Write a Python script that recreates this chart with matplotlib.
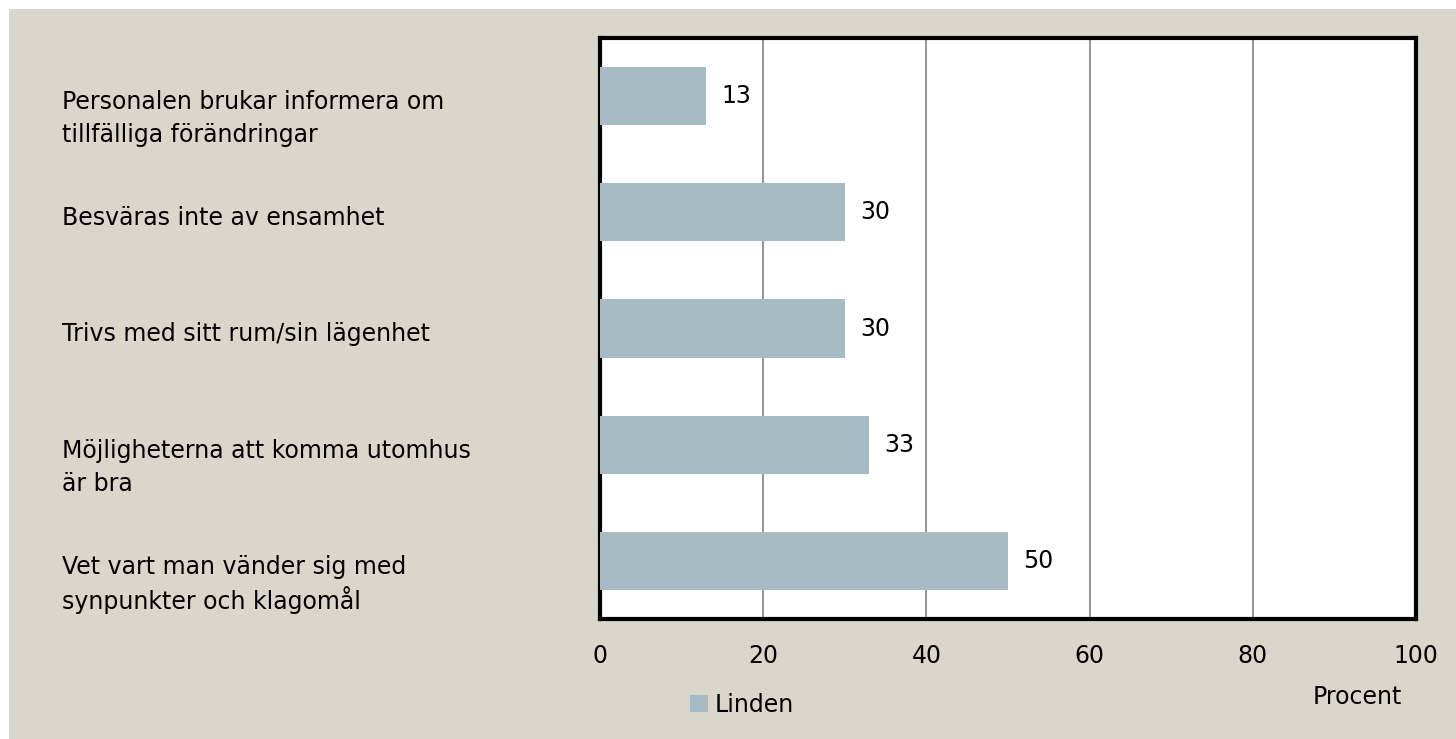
import matplotlib
matplotlib.use("Agg")
import matplotlib.pyplot as plt
import matplotlib.transforms as mtrans

plt.rcParams['font.family'] = ['DejaVu Sans']

categories = [
    "Personalen brukar informera om\ntillfälliga förändringar",
    "Besväras inte av ensamhet",
    "Trivs med sitt rum/sin lägenhet",
    "Möjligheterna att komma utomhus\när bra",
    "Vet vart man vänder sig med\nsynpunkter och klagomål",
]
values = [13, 30, 30, 33, 50]
series_name = "Linden"
xticks = [0, 20, 40, 60, 80, 100]
xlabel = "Procent"

BG = "#D9D7CB"
BAR = "#A7BBC5"
FS = 17

fig = plt.figure(figsize=(14.56, 7.39), dpi=100)
fig.patch.set_facecolor("white")
# beige panel with white margin at top/left
fig.patches.append(plt.Rectangle((9/1456, 0), 1 - 9/1456, 1 - 9/739,
                                 transform=fig.transFigure, facecolor=BG,
                                 edgecolor="none", zorder=-10))

ax = fig.add_axes([600/1456, 1 - 619/739, 816/1456, 581/739])
ax.set_zorder(1)
ax.set_facecolor("white")
ypos = list(range(len(categories)))
bars = ax.barh(ypos, values, height=0.5, color=BAR, zorder=3, label=series_name)
ax.set_ylim(len(categories) - 0.5, -0.5)
ax.set_xlim(0, 100)
ax.set_xticks(xticks)
ax.set_xticklabels([str(t) for t in xticks], fontsize=FS)
ax.tick_params(axis='x', length=0, pad=18)
ax.set_yticks([])
ax.grid(axis='x', color="#8C8C8C", linewidth=1.3, zorder=1)
for s in ax.spines.values():
    s.set_linewidth(3)
    s.set_color("black")

for y, v in zip(ypos, values):
    ax.annotate(str(v), xy=(v, y), xytext=(15, 0), textcoords="offset pixels",
                va="center", ha="left", fontsize=FS)

# category labels
blend = mtrans.blended_transform_factory(fig.transFigure, ax.transData)
for y, lab in zip(ypos, categories):
    for i, line in enumerate(lab.split("\n")):
        off = mtrans.ScaledTranslation(0, (-6 - i * 33) / 100, fig.dpi_scale_trans)
        fig.text(62/1456, y, line, transform=blend + off, fontsize=FS,
                 va="center", ha="left")

ax.set_xlabel(xlabel, fontsize=FS)
ax.xaxis.set_label_coords(0.928, -0.134)
ax.xaxis.label.set_va("center")

leg = fig.legend(handles=[bars], labels=[series_name], loc="center",
                 bbox_to_anchor=(742/1456, 1 - 705/739), frameon=False,
                 fontsize=FS, handlelength=0.75, handleheight=0.75,
                 handletextpad=0.3)

fig.savefig("out.png", dpi=100, facecolor=fig.get_facecolor())
